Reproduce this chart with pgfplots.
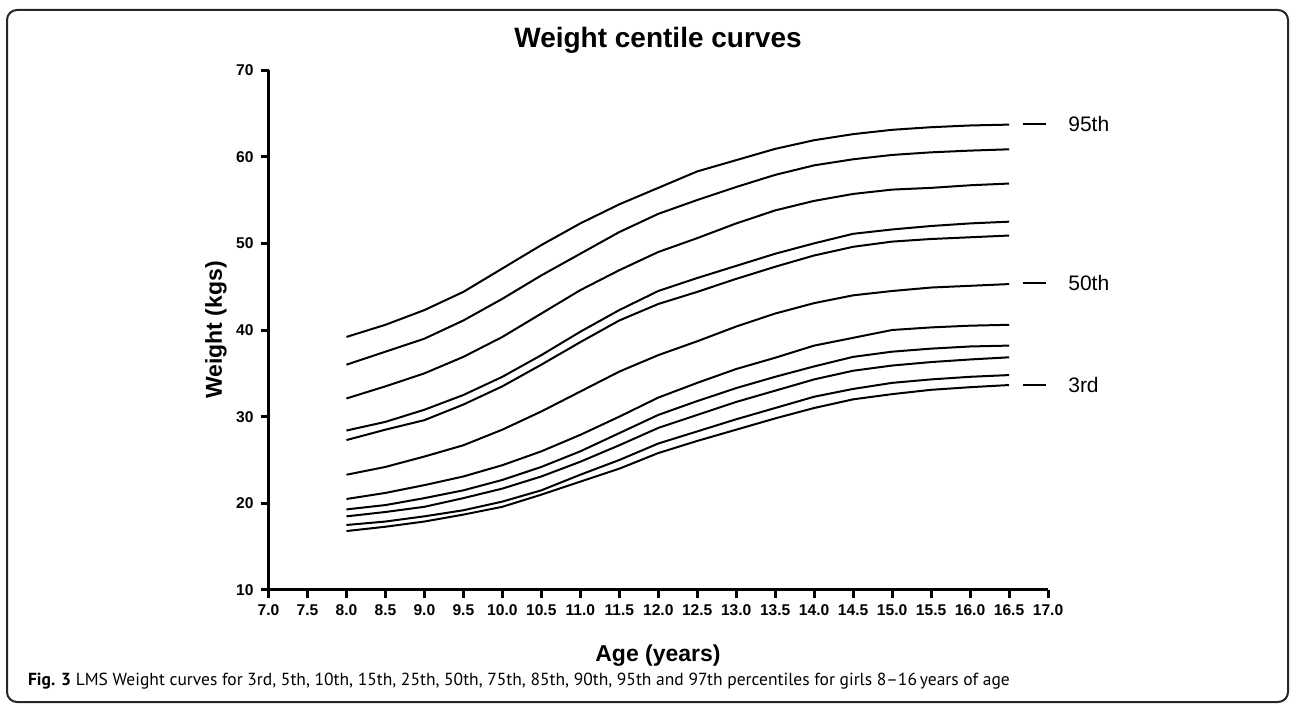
\documentclass[border=0pt]{standalone}
\usepackage{fontspec}
\setmainfont{Liberation Sans}
\newfontfamily\capfont{PT Sans}
\usepackage{pgfplots}
\usepackage{pgfplotstable}
\pgfplotsset{compat=1.18}

% weight (kg) by age
\pgfplotstableread{
age  p3    p5    p10   p15   p25   p50   p75   p85   p90   p95   p97
8.0  16.8  17.5  18.5  19.3  20.5  23.3  27.3  28.4  32.1  36.0  39.2
8.5  17.3  17.9  19.0  19.8  21.2  24.2  28.5  29.4  33.5  37.5  40.6
9.0  17.9  18.5  19.6  20.6  22.1  25.4  29.6  30.8  35.0  39.0  42.3
9.5  18.7  19.2  20.6  21.5  23.1  26.7  31.4  32.5  36.9  41.1  44.4
10.0 19.6  20.2  21.7  22.7  24.4  28.5  33.5  34.6  39.2  43.6  47.1
10.5 21.0  21.5  23.1  24.2  26.0  30.6  36.0  37.1  41.9  46.3  49.8
11.0 22.5  23.3  24.8  26.0  27.9  32.9  38.6  39.8  44.6  48.8  52.3
11.5 24.0  25.0  26.7  28.1  30.0  35.2  41.1  42.3  46.9  51.3  54.5
12.0 25.8  26.9  28.7  30.2  32.2  37.1  43.0  44.5  49.0  53.4  56.4
12.5 27.2  28.3  30.2  31.8  33.9  38.7  44.4  46.0  50.6  55.0  58.3
13.0 28.5  29.7  31.7  33.3  35.5  40.4  45.9  47.4  52.3  56.5  59.6
13.5 29.8  31.0  33.0  34.6  36.8  41.9  47.3  48.8  53.8  57.9  60.9
14.0 31.0  32.3  34.3  35.8  38.2  43.1  48.6  50.0  54.9  59.0  61.9
14.5 32.0  33.2  35.3  36.9  39.1  44.0  49.6  51.1  55.7  59.7  62.6
15.0 32.6  33.9  35.9  37.5  40.0  44.5  50.2  51.6  56.2  60.2  63.1
15.5 33.1  34.3  36.3  37.85 40.3  44.9  50.5  52.0  56.4  60.5  63.4
16.0 33.4  34.6  36.6  38.1  40.5  45.1  50.7  52.3  56.7  60.7  63.6
16.5 33.65 34.8  36.85 38.2  40.6  45.3  50.9  52.5  56.9  60.85 63.7
}\weights

\begin{document}
\begin{tikzpicture}[x=0.5pt,y=0.5pt]
  \path[use as bounding box] (0,0) rectangle (1295,712);
  \draw[black!85, line width=1pt, rounded corners=5pt] (7,10) rectangle (1288,702);

  \node[anchor=base, font=\fontsize{14}{16}\selectfont\bfseries] at (658,664) {Weight centile curves};
  \node[anchor=base, font=\fontsize{11.5}{13}\selectfont\bfseries] at (658,51) {Age (years)};
  \node[rotate=90, font=\fontsize{11.5}{13}\selectfont\bfseries] at (216,382) {Weight (kgs)};
  \node[anchor=base west, font=\capfont\fontsize{8.75}{10}\selectfont] at (21,27)
    {\textbf{Fig. 3} LMS Weight curves for 3rd, 5th, 10th, 15th, 25th, 50th, 75th, 85th, 90th, 95th and 97th percentiles for girls 8–16\,years of age};

  \begin{axis}[
    at={(134.25pt,61pt)}, anchor=south west,
    width=389.75pt, height=260pt, scale only axis,
    xmin=7, xmax=17, ymin=10, ymax=70,
    xtick={7,7.5,8,8.5,9,9.5,10,10.5,11,11.5,12,12.5,13,13.5,14,14.5,15,15.5,16,16.5,17},
    ytick={10,20,30,40,50,60,70},
    axis lines*=left,
    axis line style={line width=1.5pt},
    every tick/.style={black, line width=1.5pt},
    major tick length=4pt,
    tick align=outside,
    clip=false,
    /pgf/number format/assume math mode=true,
    tick label style={font=\fontsize{7.8}{9}\selectfont\bfseries},
    xticklabel style={/pgf/number format/.cd, fixed, fixed zerofill, precision=1},
    curve/.style={black, line width=1pt, solid, no markers},
  ]
    \addplot[curve] table[x=age, y=p3]  {\weights};
    \addplot[curve] table[x=age, y=p5]  {\weights};
    \addplot[curve] table[x=age, y=p10] {\weights};
    \addplot[curve] table[x=age, y=p15] {\weights};
    \addplot[curve] table[x=age, y=p25] {\weights};
    \addplot[curve] table[x=age, y=p50] {\weights};
    \addplot[curve] table[x=age, y=p75] {\weights};
    \addplot[curve] table[x=age, y=p85] {\weights};
    \addplot[curve] table[x=age, y=p90] {\weights};
    \addplot[curve] table[x=age, y=p95] {\weights};
    \addplot[curve] table[x=age, y=p97] {\weights};

    % side markers
    \addplot[curve] coordinates {(16.675,63.77) (16.98,63.77)};
    \addplot[curve] coordinates {(16.675,45.46) (16.98,45.46)};
    \addplot[curve] coordinates {(16.675,33.65) (16.98,33.65)};
    \node[anchor=west, font=\fontsize{10.5}{12}\selectfont] at (axis cs:17.17,63.77) {95th};
    \node[anchor=west, font=\fontsize{10.5}{12}\selectfont] at (axis cs:17.17,45.46) {50th};
    \node[anchor=west, font=\fontsize{10.5}{12}\selectfont] at (axis cs:17.17,33.65) {3rd};
  \end{axis}
\end{tikzpicture}
\end{document}
